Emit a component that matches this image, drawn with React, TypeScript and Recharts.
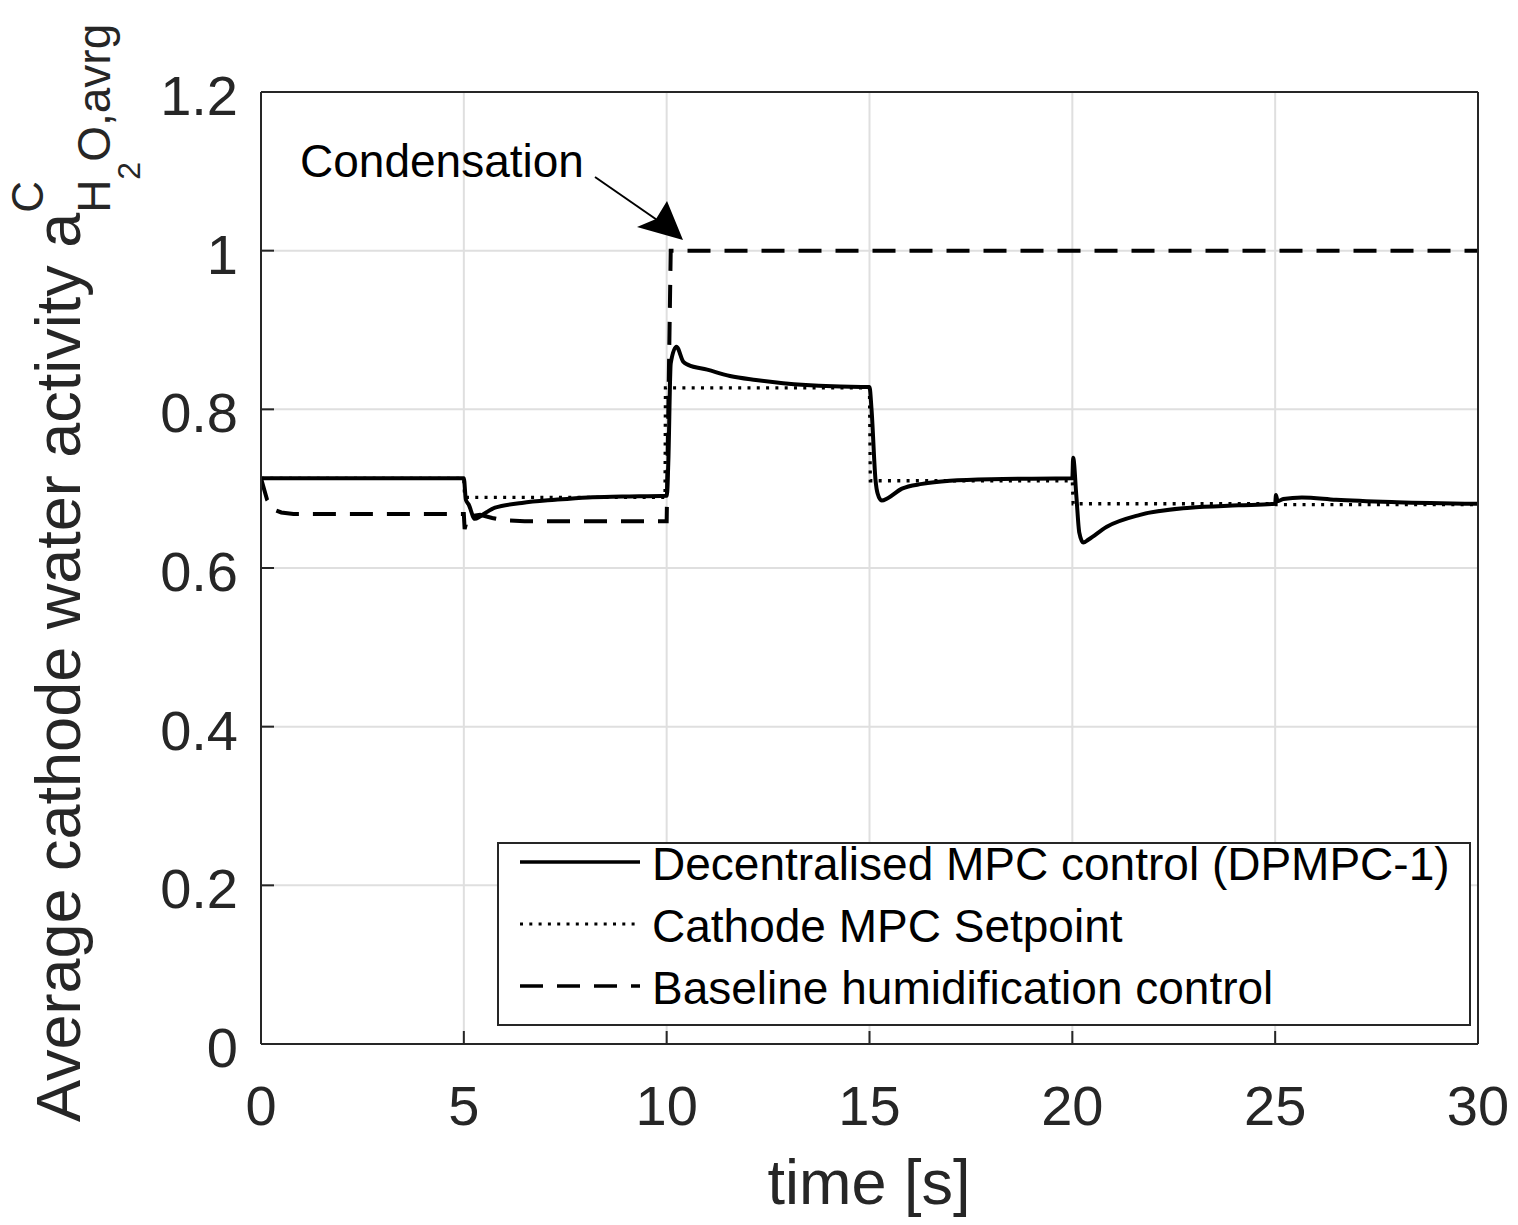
import React from "react";
import { LineChart, Line, XAxis, YAxis, CartesianGrid } from "recharts";

// Decentralised MPC control (DPMPC-1)
const mpcTime = [
  0, 5.0, 5.05, 5.12, 5.27, 5.4, 5.55, 5.77, 6.43, 7.25, 8.06, 8.9, 10.0,
  10.04, 10.1, 10.24, 10.41, 10.53, 11.0, 11.56, 12.2, 12.87, 14.1, 15.0,
  15.05, 15.15, 15.2, 15.3, 15.45, 15.8, 16.3, 16.98, 18.0, 20.0,
  20.02, 20.1, 20.17, 20.27, 20.4, 20.85, 21.67, 22.9, 24.1, 25.0,
  25.02, 25.06, 25.2, 25.66, 26.5, 28.0, 30.0,
];
const mpcValue = [
  0.713, 0.713, 0.686, 0.68, 0.662, 0.665, 0.670, 0.676, 0.682, 0.686, 0.689, 0.69, 0.691,
  0.732, 0.858, 0.879, 0.86, 0.856, 0.85, 0.842, 0.837, 0.833, 0.829, 0.828,
  0.8, 0.71, 0.694, 0.685, 0.688, 0.7, 0.706, 0.71, 0.712, 0.713,
  0.739, 0.69, 0.645, 0.632, 0.636, 0.652, 0.667, 0.676, 0.679, 0.681,
  0.692, 0.684, 0.687, 0.689, 0.686, 0.683, 0.681,
];

// Cathode MPC Setpoint
const setpointTime = [0, 5.0, 5.02, 9.96, 9.97, 15.0, 15.02, 20.0, 20.02, 25.0, 25.02, 30.0];
const setpointValue = [0.713, 0.713, 0.689, 0.689, 0.827, 0.827, 0.71, 0.71, 0.681, 0.681, 0.68, 0.68];

// Baseline humidification control
const baselineTime = [0, 0.15, 0.3, 0.5, 0.8, 5.0, 5.02, 5.1, 5.4, 5.7, 6.0, 6.5, 10.0, 10.1, 30.0];
const baselineValue = [0.713, 0.686, 0.674, 0.67, 0.668, 0.668, 0.649, 0.665, 0.667, 0.663, 0.66, 0.659, 0.659, 1.0, 1.0];

const xTicks = [0, 5, 10, 15, 20, 25, 30];
const yTicks = [0, 0.2, 0.4, 0.6, 0.8, 1, 1.2];

const legendNames = [
  "Decentralised MPC control (DPMPC-1)",
  "Cathode MPC Setpoint",
  "Baseline humidification control",
];

const font = "'Liberation Sans', Arial, Helvetica, sans-serif";
const axisColor = "#262626";
const gridColor = "#dfdfdf";

const zip = (t: number[], v: number[]) => t.map((x, i) => ({ t: x, v: v[i] }));

const mpcData = zip(mpcTime, mpcValue);
const setpointData = zip(setpointTime, setpointValue);
const baselineData = zip(baselineTime, baselineValue);

const fmt = (v: number) => String(Math.round(v * 10) / 10);

const BottomTick = (props: any) => {
  const { x, y, payload } = props;
  return (
    <g>
      <line x1={x} y1={y} x2={x} y2={y - 13} stroke={axisColor} strokeWidth={2} />
      <text x={x} y={y + 81} textAnchor="middle" fontSize={56} fill={axisColor} fontFamily={font}>
        {payload.value}
      </text>
    </g>
  );
};

const TopTick = (props: any) => {
  const { x, y } = props;
  return <line x1={x} y1={y} x2={x} y2={y + 13} stroke={axisColor} strokeWidth={2} />;
};

const LeftTick = (props: any) => {
  const { x, y, payload } = props;
  return (
    <g>
      <line x1={x} y1={y} x2={x + 13} y2={y} stroke={axisColor} strokeWidth={2} />
      <text x={x - 23} y={y + 23} textAnchor="end" fontSize={56} fill={axisColor} fontFamily={font}>
        {fmt(payload.value)}
      </text>
    </g>
  );
};

const RightTick = (props: any) => {
  const { x, y } = props;
  return <line x1={x} y1={y} x2={x - 13} y2={y} stroke={axisColor} strokeWidth={2} />;
};

const legendRows = [
  { name: legendNames[0], dash: undefined, width: 3.5 },
  { name: legendNames[1], dash: "3 6.3", width: 3 },
  { name: legendNames[2], dash: "23 14", width: 3.5 },
];

export default function App() {
  return (
    <div style={{ position: "absolute", left: 0, top: 0, width: 1518, height: 1225, background: "#fff" }}>
      <LineChart width={1518} height={1225} margin={{ top: 0, right: 0, bottom: 0, left: 0 }}>
        <CartesianGrid stroke={gridColor} strokeWidth={2} />
        <XAxis
          dataKey="t"
          type="number"
          domain={[0, 30]}
          ticks={xTicks}
          height={181}
          tickLine={false}
          tickSize={0}
          tickMargin={0}
          axisLine={{ stroke: axisColor, strokeWidth: 2 }}
          tick={<BottomTick />}
          allowDataOverflow
        />
        <XAxis
          xAxisId="top"
          orientation="top"
          dataKey="t"
          type="number"
          domain={[0, 30]}
          ticks={xTicks}
          height={92}
          tickLine={false}
          tickSize={0}
          tickMargin={0}
          axisLine={{ stroke: axisColor, strokeWidth: 2 }}
          tick={<TopTick />}
        />
        <YAxis
          type="number"
          domain={[0, 1.2]}
          ticks={yTicks}
          width={261}
          tickLine={false}
          tickSize={0}
          tickMargin={0}
          axisLine={{ stroke: axisColor, strokeWidth: 2 }}
          tick={<LeftTick />}
          allowDataOverflow
        />
        <YAxis
          yAxisId="right"
          orientation="right"
          type="number"
          domain={[0, 1.2]}
          ticks={yTicks}
          width={40}
          tickLine={false}
          tickSize={0}
          tickMargin={0}
          axisLine={{ stroke: axisColor, strokeWidth: 2 }}
          tick={<RightTick />}
        />
        <Line
          data={setpointData}
          dataKey="v"
          type="linear"
          stroke="#000"
          strokeWidth={3.3}
          strokeDasharray="3 6.3"
          dot={false}
          activeDot={false}
          isAnimationActive={false}
        />
        <Line
          data={baselineData}
          dataKey="v"
          type="linear"
          stroke="#000"
          strokeWidth={4}
          strokeDasharray="23 14"
          dot={false}
          activeDot={false}
          isAnimationActive={false}
        />
        <Line
          data={mpcData}
          dataKey="v"
          type="monotoneX"
          stroke="#000"
          strokeWidth={4}
          dot={false}
          activeDot={false}
          isAnimationActive={false}
        />
      </LineChart>

      <svg
        width={1518}
        height={1225}
        style={{ position: "absolute", left: 0, top: 0, pointerEvents: "none" }}
        fontFamily={font}
      >
        {/* y axis label */}
        <g transform="translate(80,1122) rotate(-90)">
          <text x={0} y={0} fontSize={63} fill={axisColor}>
            Average cathode water activity a
            <tspan fontSize={44} dy={-37}>C</tspan>
            <tspan fontSize={46} dx={-32} dy={67}>H</tspan>
            <tspan fontSize={32} dy={30}>2</tspan>
            <tspan fontSize={46} dy={-30}>O,avrg</tspan>
          </text>
        </g>

        {/* x axis label */}
        <text x={869} y={1204} textAnchor="middle" fontSize={63} fill={axisColor}>
          time [s]
        </text>

        {/* annotation */}
        <text x={300} y={177} fontSize={46} fill="#000">
          Condensation
        </text>
        <line x1={595} y1={177} x2={660} y2={222} stroke="#000" strokeWidth={2} />
        <polygon points="683,240 637,227 656,219 667,201" fill="#000" />

        {/* legend */}
        <rect x={498} y={843} width={972} height={182} fill="#fff" stroke={axisColor} strokeWidth={2} />
        {legendRows.map((r, i) => {
          const ly = 862 + i * 62;
          return (
            <g key={r.name}>
              <line
                x1={520}
                y1={ly}
                x2={640}
                y2={ly}
                stroke="#000"
                strokeWidth={r.width}
                strokeDasharray={r.dash}
              />
              <text x={652} y={ly + 18} fontSize={46} fill="#000">
                {r.name}
              </text>
            </g>
          );
        })}
      </svg>
    </div>
  );
}
